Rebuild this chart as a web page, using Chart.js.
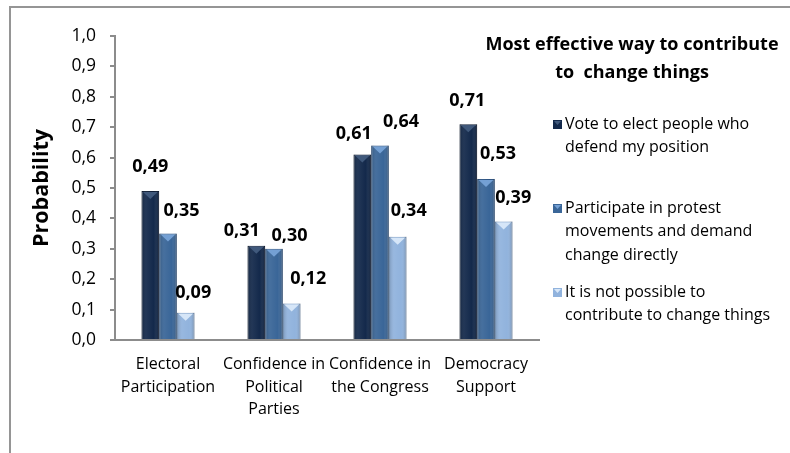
<!DOCTYPE html>
<html>
<head>
<meta charset="utf-8">
<script src="https://cdn.jsdelivr.net/npm/chart.js@4.4.1/dist/chart.umd.min.js"></script>
<style>
  html, body { margin: 0; padding: 0; background: #fff; overflow: hidden; }
  canvas { display: block; }
</style>
</head>
<body>
<canvas id="grafico" width="790" height="453"></canvas>
<script>
const categorias = [
  ["Electoral", "Participation"],
  ["Confidence in", "Political", "Parties"],
  ["Confidence in", "the Congress"],
  ["Democracy", "Support"]
];
const votar = [0.49, 0.31, 0.61, 0.71];
const protestar = [0.35, 0.30, 0.64, 0.53];
const naoPossivel = [0.09, 0.12, 0.34, 0.39];
const yTicks = [0, 0.1, 0.2, 0.3, 0.4, 0.5, 0.6, 0.7, 0.8, 0.9, 1.0];

const tituloLegenda = ["Most effective way to contribute", "to  change things"];
const textosLegenda = [
  ["Vote to elect people who", "defend my position"],
  ["Participate in protest", "movements and demand", "change directly"],
  ["It is not possible to", "contribute to change things"]
];

// deslocamento dos rótulos (como foram arrastados no original)
const deslocX = [[0, -14.5, -8.5, -1], [13.5, 15.5, 21, 12], [7.5, 16.5, 11, 9.5]];
const deslocY = [[-24, -15, -21, -23], [-22.5, -13, -24, -25], [-20, -24.5, -26, -24]];

const cores = ["#13294b", "#3a6698", "#91b3dd"];
const coresTopo = ["#40597c", "#74a0d4", "#d6e6f8"];
const coresBorda = ["#0b1a33", "#2b5282", "#7094c0"];

const FONTE = "'Open Sans', sans-serif";

// moldura, rótulos e efeito de bisel
const extras = {
  id: "extras",
  beforeDraw(chart) {
    const ctx = chart.ctx;
    ctx.save();
    ctx.strokeStyle = "#959595";
    ctx.lineWidth = 2;
    ctx.strokeRect(10, 7, 900, 600);
    ctx.restore();
  },
  afterDatasetsDraw(chart) {
    const ctx = chart.ctx;
    ctx.save();
    chart.data.datasets.forEach((ds, di) => {
      const meta = chart.getDatasetMeta(di);
      meta.data.forEach((bar, i) => {
        const w = bar.width;
        const left = bar.x - w / 2;
        const right = bar.x + w / 2;
        const top = bar.y;
        const bottom = bar.base;
        // sombra lateral
        const g = ctx.createLinearGradient(left, 0, right, 0);
        g.addColorStop(0, "rgba(0,0,0,0.18)");
        g.addColorStop(0.3, "rgba(255,255,255,0.06)");
        g.addColorStop(0.7, "rgba(255,255,255,0.0)");
        g.addColorStop(1, "rgba(0,0,0,0.22)");
        ctx.fillStyle = g;
        ctx.fillRect(left, top, w, bottom - top);
        // triângulo no topo
        ctx.fillStyle = coresTopo[di];
        ctx.beginPath();
        ctx.moveTo(left + 1.5, top + 1);
        ctx.lineTo(right - 1.5, top + 1);
        ctx.lineTo(bar.x, top + 8);
        ctx.closePath();
        ctx.fill();
        // rótulo
        ctx.fillStyle = "#000";
        ctx.font = "bold 18px " + FONTE;
        ctx.textAlign = "center";
        ctx.textBaseline = "middle";
        ctx.fillText(ds.data[i].toFixed(2).replace(".", ","), bar.x + deslocX[di][i], top + deslocY[di][i]);
      });
    });
    ctx.restore();
  },
  afterDraw(chart) {
    const ctx = chart.ctx;
    ctx.save();
    ctx.fillStyle = "#000";
    ctx.textBaseline = "middle";
    ctx.textAlign = "center";
    ctx.font = "bold 18px " + FONTE;
    tituloLegenda.forEach((t, k) => ctx.fillText(t, 632, 45 + k * 28));
    ctx.textAlign = "left";
    ctx.font = "16px " + FONTE;
    const inicios = [124, 208, 292];
    textosLegenda.forEach((linhas, k) => {
      const y0 = inicios[k];
      ctx.fillStyle = cores[k];
      ctx.fillRect(553, y0 - 4, 9, 9);
      ctx.fillStyle = coresTopo[k];
      ctx.beginPath();
      ctx.moveTo(554, y0 - 3);
      ctx.lineTo(561, y0 - 3);
      ctx.lineTo(557.5, y0 + 1);
      ctx.closePath();
      ctx.fill();
      ctx.fillStyle = "#000";
      linhas.forEach((l, j) => ctx.fillText(l, 565, y0 + j * 23.5));
    });
    ctx.restore();
  }
};

new Chart(document.getElementById("grafico"), {
  type: "bar",
  data: {
    labels: categorias,
    datasets: [
      { label: textosLegenda[0].join(" "), data: votar, backgroundColor: cores[0], borderColor: coresBorda[0], borderWidth: 1 },
      { label: textosLegenda[1].join(" "), data: protestar, backgroundColor: cores[1], borderColor: coresBorda[1], borderWidth: 1 },
      { label: textosLegenda[2].join(" "), data: naoPossivel, backgroundColor: cores[2], borderColor: coresBorda[2], borderWidth: 1 }
    ]
  },
  options: {
    responsive: false,
    animation: false,
    devicePixelRatio: 1,
    layout: { padding: { top: 36, right: 251, bottom: 0, left: 0 } },
    datasets: { bar: { categoryPercentage: 0.5, barPercentage: 1 } },
    scales: {
      x: {
        afterFit: s => { s.height = 113; },
        grid: { display: false },
        border: { display: true, color: "#8c8c8c", width: 2 },
        ticks: { color: "#000", font: { family: FONTE, size: 16, lineHeight: 1.42 }, padding: 5, maxRotation: 0, autoSkip: false }
      },
      y: {
        min: 0,
        max: 1,
        afterFit: s => { s.width = 115; },
        afterBuildTicks: s => { s.ticks = yTicks.map(v => ({ value: v })); },
        grid: { drawOnChartArea: false, tickLength: 5, color: "#8c8c8c", lineWidth: 2 },
        border: { display: true, color: "#8c8c8c", width: 2 },
        ticks: {
          color: "#000",
          padding: 14,
          font: { family: FONTE, size: 17.5 },
          callback: v => v.toFixed(1).replace(".", ",")
        },
        title: {
          display: true,
          text: "Probability",
          color: "#000",
          font: { family: FONTE, size: 21.5, weight: "bold" },
          padding: { top: 29, bottom: 0 }
        }
      }
    },
    plugins: {
      legend: { display: false },
      tooltip: { enabled: false }
    }
  },
  plugins: [extras]
});
</script>
</body>
</html>
